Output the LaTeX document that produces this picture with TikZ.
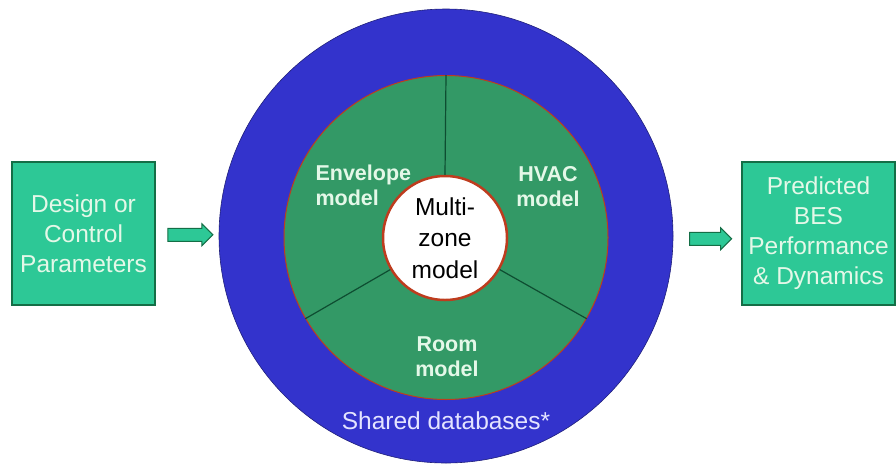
\documentclass[tikz,border=0pt]{standalone}
\usepackage{fontspec}
\setmainfont{Liberation Sans}
\usetikzlibrary{shapes.arrows,calc}
\definecolor{dbblue}{RGB}{51,51,204}
\definecolor{ringgreen}{RGB}{51,153,102}
\definecolor{boxgreen}{RGB}{45,200,150}
\definecolor{edgegreen}{RGB}{20,110,70}
\definecolor{rimred}{RGB}{190,60,30}
\definecolor{palegreen}{RGB}{228,248,232}
\definecolor{paleblue}{RGB}{228,228,255}

\begin{document}
\begin{tikzpicture}[x=1pt,y=-1pt,
    box/.style={draw=edgegreen, line width=1.2pt, fill=boxgreen, text=palegreen, align=center,
      font=\fontsize{24.5}{30}\selectfont, inner sep=0pt, minimum height=143pt},
    blockarrow/.style={single arrow, draw=edgegreen, fill=boxgreen, line width=1pt, inner sep=6pt,
      single arrow head extend=4.5pt, single arrow tip angle=90, single arrow head indent=0pt},
    part/.style={text=palegreen, font=\bfseries\fontsize{21.5}{25.5}\selectfont}]
    \useasboundingbox (0,0) rectangle (896,464);

    % Rings.
    \node[circle, fill=dbblue, draw=dbblue!60!black, line width=0.6pt, minimum size=454pt, inner sep=0pt] (db) at (446,236) {};
    \node[circle, fill=ringgreen, draw=rimred, line width=1pt, minimum size=324pt, inner sep=0pt] (ring) at (446,237.5) {};
    \node[circle, fill=white, draw=rimred, line width=2.5pt, minimum size=124pt, inner sep=0pt,
      font=\fontsize{24.5}{31.5}\selectfont, align=center] (core) at (445,238) {Multi-\\zone\\model};
    \foreach \a in {90,210,330}
        \draw[edgegreen!70!black, line width=1.2pt] (core.\a) -- (ring.\a);

    \node[part, anchor=west, align=left] (envelope) at (312,185.5) {Envelope\\model};
    \node[part, align=center] (hvac) at (548,186.5) {HVAC\\model};
    \node[part, align=center] (room) at (447,356.5) {Room\\model};
    \node[text=paleblue, font=\fontsize{24.5}{30}\selectfont] (shared) at (446,421) {Shared databases*};

    % Input and output boxes.
    \node[box, minimum width=143pt] (design) at (83.5,233.5) {Design or\\Control\\Parameters};
    \node[box, minimum width=153pt] (predicted) at (818.5,233.5) {Predicted\\BES\\Performance\\\& Dynamics};

    \node[blockarrow, minimum height=45pt] (inarrow) at ($(design.east)!0.5!(db.west)$) {};
    \node[blockarrow, minimum height=42pt] (outarrow) at ($(db.east)!0.5!(predicted.west)+(0,4)$) {};
\end{tikzpicture}
\end{document}
